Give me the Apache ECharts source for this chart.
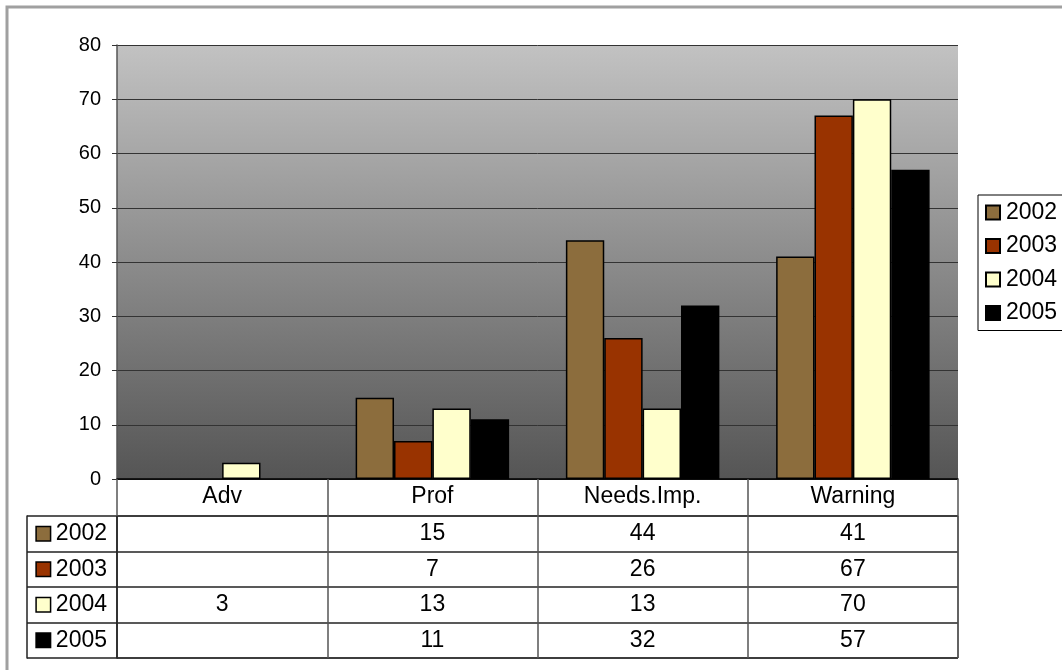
<!DOCTYPE html>
<html>
<head>
<meta charset="utf-8">
<script src="https://cdn.jsdelivr.net/npm/echarts@6/dist/echarts.min.js"></script>
<style>
html,body{margin:0;padding:0;background:#fff;}
#chart{width:1062px;height:670px;}
</style>
</head>
<body>
<div id="chart"></div>
<script>
const categories = ['Adv', 'Prof', 'Needs.Imp.', 'Warning'];
const years = ['2002', '2003', '2004', '2005'];
const v2002 = [null, 15, 44, 41];
const v2003 = [null, 7, 26, 67];
const v2004 = [3, 13, 13, 70];
const v2005 = [null, 11, 32, 57];
const yTicks = { min: 0, max: 80, interval: 10 };

const seriesValues = [v2002, v2003, v2004, v2005];
const colors = ['#8C6D3D', '#993300', '#FFFFCC', '#000000'];
const FONT = 'Liberation Sans, Arial, sans-serif';

const chart = echarts.init(document.getElementById('chart'));

const barSeries = years.map((y, i) => ({
  name: y,
  type: 'bar',
  xAxisIndex: 0,
  yAxisIndex: 0,
  data: seriesValues[i],
  barGap: '0%',
  barCategoryGap: '27%',
  itemStyle: { color: colors[i], borderColor: '#000', borderWidth: 1.5 },
  emphasis: { disabled: true },
  animation: false
}));

const tableData = [];
years.forEach((y, r) => {
  seriesValues[r].forEach((v, c) => {
    if (v !== null && v !== undefined) tableData.push([c, r, v]);
  });
});

const rich = { t: { fontSize: 23, fontFamily: FONT, color: '#000', padding: [0, 0, 0, 6] } };
years.forEach((y, i) => {
  rich['b' + i] = { width: 13, height: 13, backgroundColor: colors[i], borderColor: '#000', borderWidth: 1.5 };
});

chart.setOption({
  backgroundColor: '#fff',
  animation: false,
  textStyle: { fontFamily: FONT },
  graphic: [{
    type: 'rect',
    shape: { x: 7, y: 7, width: 1200, height: 800 },
    style: { fill: 'none', stroke: '#a0a0a0', lineWidth: 3 },
    silent: true,
    z: 100
  }],
  legend: {
    orient: 'vertical',
    left: 978,
    top: 195,
    padding: [5, 14, 5, 7],
    itemGap: 8.5,
    itemWidth: 14,
    itemHeight: 14,
    icon: 'rect',
    borderColor: '#000',
    borderWidth: 1,
    backgroundColor: '#fff',
    textStyle: { fontSize: 23, fontFamily: FONT, color: '#000', padding: [0, 0, 0, 1], lineHeight: 25 },
    data: years
  },
  grid: [
    {
      left: 117, right: 104, top: 45, bottom: 191,
      show: true,
      borderWidth: 0,
      backgroundColor: {
        type: 'linear', x: 0, y: 0, x2: 0, y2: 1,
        colorStops: [{ offset: 0, color: '#c2c2c2' }, { offset: 1, color: '#555555' }]
      }
    },
    {
      left: 117, right: 104, top: 516, bottom: 12,
      show: true,
      borderColor: '#222',
      borderWidth: 1
    }
  ],
  xAxis: [
    {
      type: 'category',
      gridIndex: 0,
      data: categories,
      axisLine: { show: true, lineStyle: { color: '#000', width: 1.5 } },
      axisTick: { show: true, length: 37, interval: 0, lineStyle: { color: '#555', width: 1.5 } },
      axisLabel: { fontSize: 23, color: '#000', margin: 6, fontFamily: FONT, interval: 0 },
      splitLine: { show: false }
    },
    {
      type: 'category',
      gridIndex: 1,
      data: categories,
      axisLine: { show: false },
      axisTick: { show: false },
      axisLabel: { show: false },
      splitLine: { show: true, interval: 0, lineStyle: { color: '#555', width: 1.5 } }
    }
  ],
  yAxis: [
    {
      type: 'value',
      gridIndex: 0,
      min: yTicks.min,
      max: yTicks.max,
      interval: yTicks.interval,
      axisLine: { show: true, lineStyle: { color: '#555', width: 1.5 } },
      axisTick: { show: true, length: 5, lineStyle: { color: '#333' } },
      axisLabel: { fontSize: 20, color: '#000', margin: 16, fontFamily: FONT },
      splitLine: { show: true, lineStyle: { color: '#333', width: 1 } }
    },
    {
      type: 'category',
      gridIndex: 1,
      data: years,
      inverse: true,
      axisLine: { show: true, lineStyle: { color: '#222', width: 1.5 } },
      axisTick: { show: true, length: 90, interval: 0, lineStyle: { color: '#222', width: 1.5 } },
      axisLabel: {
        margin: 10,
        interval: 0,
        formatter: (v, i) => `{b${i}|}{t|${v}}`,
        rich: rich
      },
      splitLine: { show: true, interval: 0, lineStyle: { color: '#222', width: 1.5 } }
    },
    {
      type: 'category',
      gridIndex: 1,
      data: years,
      inverse: true,
      position: 'left',
      offset: 90,
      axisLine: { show: true, lineStyle: { color: '#222', width: 1.5 } },
      axisTick: { show: false },
      axisLabel: { show: false },
      splitLine: { show: false }
    }
  ],
  series: barSeries.concat([{
    type: 'custom',
    xAxisIndex: 1,
    yAxisIndex: 1,
    data: tableData,
    silent: true,
    renderItem: function (params, api) {
      const pt = api.coord([api.value(0), api.value(1)]);
      return {
        type: 'text',
        x: pt[0],
        y: pt[1],
        style: {
          text: String(api.value(2)),
          fill: '#000',
          fontSize: 23,
          fontFamily: FONT,
          align: 'center',
          verticalAlign: 'middle'
        }
      };
    }
  }])
});
</script>
</body>
</html>
